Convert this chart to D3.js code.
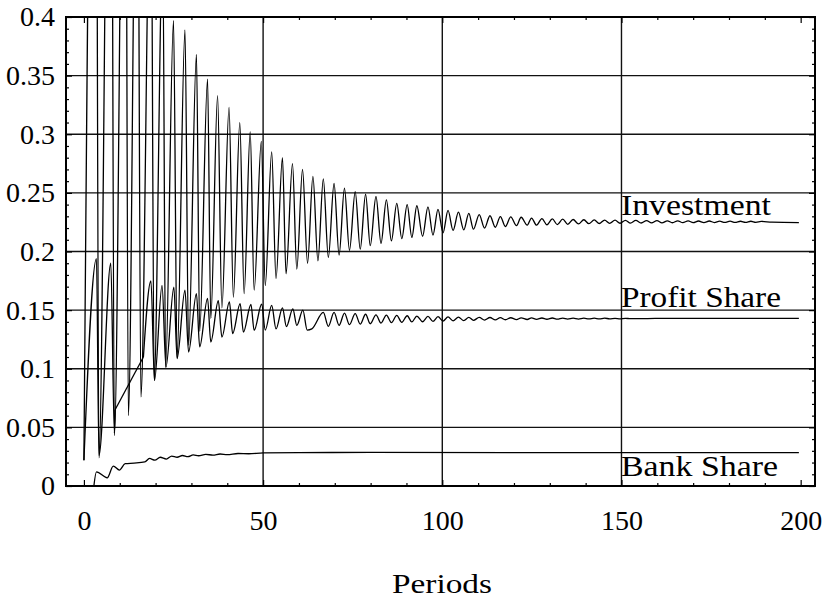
<!DOCTYPE html>
<html>
<head>
<meta charset="utf-8">
<script src="https://cdn.jsdelivr.net/npm/d3@7"></script>
<style>
body { margin: 0; background: #fff; }
svg { display: block; }
text { font-family: "Liberation Serif", "Times New Roman", serif; fill: #000; }
</style>
</head>
<body>
<svg id="chart" width="827" height="603"></svg>
<script>
// turning points (period, share)
let investmentPeriods = [0, 3.2, 4.2, 7.5, 8.5, 11.5, 12.4, 14.9, 15.9, 18.7, 19.6, 22.0, 22.8, 25.0, 26.0, 28.2, 29.2, 31.4, 32.3, 34.5, 35.4, 37.3, 38.5, 40.5, 41.7, 43.5, 44.7, 46.4, 47.5, 49.5, 50.6, 52.4, 53.6, 55.4, 56.4, 58.2, 59.4, 61.0, 62.4, 63.9, 65.3, 66.8, 68.2, 69.8, 71.2, 72.7, 74.1, 75.7, 77.1, 78.6, 79.9, 81.5, 82.9, 84.4, 85.8, 87.3, 88.7, 90.2, 91.5, 92.9, 94.5, 96.0, 97.4, 98.8, 100.2, 101.6, 103.0, 104.5, 106.0, 107.4, 108.7, 110.3, 111.8, 113.3, 114.8, 116.2, 117.6, 119.1, 120.7, 122.0, 123.7, 124.9, 126.3, 127.8, 129.2, 130.7, 132.1, 133.6, 135.0, 136.5, 138.0, 139.5, 140.9, 142.4, 143.8, 145.3, 146.7, 148.2, 149.6, 151.1, 152.5, 154.0, 155.5, 157.0, 158.4, 159.9, 161.3, 162.8, 164.2, 165.7, 167.1, 168.6, 170.0, 171.5, 173.0, 174.5, 175.9, 177.4, 178.8, 180.3, 181.7, 183.2, 184.6, 186.1, 187.5, 189.0, 192.0, 199.5];
let investmentValues = [0.022, 0.85, 0.024, 0.8, 0.043, 0.75, 0.06, 0.65, 0.076, 0.55, 0.09, 0.46, 0.101, 0.397, 0.109, 0.389, 0.12, 0.368, 0.132, 0.347, 0.143, 0.333, 0.152, 0.323, 0.161, 0.310, 0.164, 0.302, 0.167, 0.294, 0.171, 0.285, 0.177, 0.280, 0.181, 0.275, 0.185, 0.270, 0.190, 0.264, 0.192, 0.262, 0.195, 0.258, 0.197, 0.254, 0.201, 0.251, 0.202, 0.249, 0.205, 0.247, 0.207, 0.244, 0.209, 0.241, 0.211, 0.240, 0.212, 0.239, 0.213, 0.238, 0.214, 0.236, 0.216, 0.235, 0.218, 0.2335, 0.2185, 0.2325, 0.219, 0.2315, 0.220, 0.2305, 0.2207, 0.2298, 0.2213, 0.2295, 0.2221, 0.2292, 0.2225, 0.2285, 0.2225, 0.2280, 0.2228, 0.2278, 0.2230, 0.2276, 0.2232, 0.2273, 0.2235, 0.2271, 0.2237, 0.2269, 0.2239, 0.2268, 0.2240, 0.2267, 0.2241, 0.2266, 0.2242, 0.2265, 0.2243, 0.2264, 0.2244, 0.2263, 0.2244, 0.2262, 0.2245, 0.2262, 0.2246, 0.2261, 0.2246, 0.2260, 0.2247, 0.2260, 0.2247, 0.2259, 0.2248, 0.2259, 0.2248, 0.2258, 0.2249, 0.2258, 0.2249, 0.2257, 0.2250, 0.2247];

let profitPeriods = [0, 3.5, 4.2, 7.5, 8.5, 8.7, 16.6, 18.7, 19.7, 21.8, 22.9, 25.1, 26.0, 28.2, 29.2, 31.4, 32.3, 34.5, 35.4, 37.5, 38.5, 40.6, 41.5, 43.6, 44.5, 46.6, 47.5, 49.6, 50.6, 52.4, 53.6, 55.4, 56.5, 58.3, 59.4, 61.1, 62.3, 63.6, 66.8, 68.2, 69.8, 71.2, 72.7, 74.1, 75.7, 77.1, 78.6, 79.9, 81.5, 82.9, 84.4, 85.8, 87.3, 88.7, 90.2, 91.5, 92.9, 94.5, 96.0, 97.4, 98.8, 100.2, 101.6, 103.0, 104.5, 106.0, 107.4, 108.7, 110.3, 111.8, 113.3, 114.8, 116.2, 117.6, 119.1, 120.7, 122.0, 123.7, 124.9, 126.3, 127.8, 129.2, 130.7, 132.1, 133.6, 135.0, 136.5, 138.0, 139.5, 140.9, 142.4, 143.8, 145.3, 146.7, 148.2, 149.6, 151.1, 152.5, 160.0, 199.5];
let profitValues = [0.022, 0.194, 0.026, 0.190, 0.045, 0.065, 0.110, 0.175, 0.090, 0.171, 0.1015, 0.1696, 0.1087, 0.167, 0.1143, 0.164, 0.1186, 0.160, 0.1228, 0.158, 0.127, 0.157, 0.130, 0.1555, 0.1313, 0.1548, 0.1328, 0.155, 0.133, 0.154, 0.134, 0.152, 0.136, 0.151, 0.137, 0.150, 0.133, 0.134, 0.148, 0.1362, 0.148, 0.137, 0.1475, 0.1376, 0.147, 0.138, 0.1465, 0.1384, 0.146, 0.139, 0.1458, 0.1393, 0.1455, 0.1396, 0.1452, 0.1399, 0.1449, 0.1401, 0.1446, 0.1404, 0.1444, 0.1407, 0.1442, 0.1409, 0.1440, 0.1411, 0.1439, 0.1413, 0.1438, 0.1415, 0.1437, 0.1416, 0.1436, 0.1418, 0.1435, 0.1419, 0.1434, 0.1420, 0.1434, 0.1421, 0.1433, 0.1422, 0.1433, 0.1423, 0.1432, 0.1424, 0.1432, 0.1424, 0.1431, 0.1425, 0.1431, 0.1425, 0.1431, 0.1426, 0.1430, 0.1426, 0.1430, 0.1427, 0.1429, 0.1430];
// the profit share jumps along a straight stretch between these two periods
let profitStraight = [8.7, 16.6];

let bankPeriods = [2.7, 3.5, 6.5, 8.2, 9.9, 11.5, 14, 17, 18.3, 19.8, 21.3, 23, 24.5, 26, 27.5, 29, 30.5, 32, 34, 36, 38, 40, 43, 46, 50, 60, 80, 120, 199.5];
let bankValues = [-0.002, 0.012, 0.007, 0.017, 0.0136, 0.019, 0.0195, 0.0205, 0.0235, 0.022, 0.0245, 0.023, 0.0255, 0.0245, 0.026, 0.025, 0.0265, 0.0258, 0.027, 0.0263, 0.0273, 0.0268, 0.0277, 0.0275, 0.0283, 0.0285, 0.0286, 0.0285, 0.0284];

let seriesNames = ["Investment", "Profit Share", "Bank Share"];
let xTicks = [0, 50, 100, 150, 200];
let xMinorTicks = [10, 20, 30, 40, 60, 70, 80, 90, 110, 120, 130, 140, 160, 170, 180, 190];
let yTicks = [0, 0.05, 0.1, 0.15, 0.2, 0.25, 0.3, 0.35, 0.4];
let yTickLabels = ["0", "0.05", "0.1", "0.15", "0.2", "0.25", "0.3", "0.35", "0.4"];
let yMinorTicks = [0.01, 0.02, 0.03, 0.04, 0.06, 0.07, 0.08, 0.09, 0.11, 0.12, 0.13, 0.14, 0.16, 0.17, 0.18, 0.19, 0.21, 0.22, 0.23, 0.24, 0.26, 0.27, 0.28, 0.29, 0.31, 0.32, 0.33, 0.34, 0.36, 0.37, 0.38, 0.39];
let xGrid = [50, 100, 150];
let yGrid = [0.05, 0.1, 0.15, 0.2, 0.25, 0.3, 0.35];

let plotLeft = 66, plotRight = 815, plotTop = 17, plotBottom = 486;
let fontSize = 28;

let svg = d3.select("#chart");

let x = d3.scaleLinear().domain([-5, 204]).range([plotLeft, plotRight]);
let y = d3.scaleLinear().domain([0, 0.4]).range([plotBottom, plotTop]);

svg.append("defs").append("clipPath")
    .attr("id", "plot-clip")
    .append("rect")
    .attr("x", plotLeft)
    .attr("y", plotTop)
    .attr("width", plotRight - plotLeft)
    .attr("height", plotBottom - plotTop);

// grid
svg.append("g").selectAll("line")
    .data(yGrid)
    .enter().append("line")
    .attr("x1", plotLeft).attr("x2", plotRight)
    .attr("y1", d => y(d)).attr("y2", d => y(d))
    .style("stroke", "#111")
    .style("stroke-width", 1.4);

svg.append("g").selectAll("line")
    .data(xGrid)
    .enter().append("line")
    .attr("x1", d => x(d)).attr("x2", d => x(d))
    .attr("y1", plotTop).attr("y2", plotBottom)
    .style("stroke", "#111")
    .style("stroke-width", 1.4);

// ticks on all four sides, pointing inwards
function tickAxis(axis, pos, cls) {
    let g = svg.append("g")
        .attr("class", cls)
        .attr("transform", pos)
        .call(axis);
    g.select(".domain").remove();
    g.selectAll("line").style("stroke", "#000").style("stroke-width", 1.2);
    return g;
}

let yAxis = tickAxis(d3.axisLeft(y).tickValues(yTicks).tickSize(-6).tickPadding(11)
    .tickFormat((d, i) => yTickLabels[i]), "translate(" + plotLeft + ",0)", "y-axis");
yAxis.selectAll("text").style("font-size", fontSize + "px").style("font-family", "Liberation Serif");
tickAxis(d3.axisLeft(y).tickValues(yMinorTicks).tickSize(-3).tickFormat(""), "translate(" + plotLeft + ",0)", "y-minor");
tickAxis(d3.axisRight(y).tickValues(yTicks).tickSize(-6).tickFormat(""), "translate(" + plotRight + ",0)", "y-right");
tickAxis(d3.axisRight(y).tickValues(yMinorTicks).tickSize(-3).tickFormat(""), "translate(" + plotRight + ",0)", "y-right-minor");

let xAxis = tickAxis(d3.axisBottom(x).tickValues(xTicks).tickSize(-6).tickPadding(24)
    .tickFormat(d3.format("d")), "translate(0," + plotBottom + ")", "x-axis");
xAxis.selectAll("text").style("font-size", fontSize + "px").style("font-family", "Liberation Serif");
tickAxis(d3.axisBottom(x).tickValues(xMinorTicks).tickSize(-3).tickFormat(""), "translate(0," + plotBottom + ")", "x-minor");
tickAxis(d3.axisTop(x).tickValues(xTicks).tickSize(-6).tickFormat(""), "translate(0," + plotTop + ")", "x-top");
tickAxis(d3.axisTop(x).tickValues(xMinorTicks).tickSize(-3).tickFormat(""), "translate(0," + plotTop + ")", "x-top-minor");

// series
let smooth = d3.line()
    .x(d => x(d[0]))
    .y(d => y(d[1]))
    .curve(d3.curveMonotoneX);

let straight = d3.line()
    .x(d => x(d[0]))
    .y(d => y(d[1]));

let profit = d3.zip(profitPeriods, profitValues);
let cutA = profitPeriods.indexOf(profitStraight[0]);
let cutB = profitPeriods.indexOf(profitStraight[1]);

let pieces = [
    smooth(d3.zip(investmentPeriods, investmentValues)),
    smooth(profit.slice(0, cutA + 1)),
    straight(profit.slice(cutA, cutB + 1)),
    smooth(profit.slice(cutB)),
    smooth(d3.zip(bankPeriods, bankValues))
];

svg.append("g")
    .attr("clip-path", "url(#plot-clip)")
    .selectAll("path")
    .data(pieces)
    .enter().append("path")
    .attr("d", d => d)
    .style("fill", "none")
    .style("stroke", "#000")
    .style("stroke-width", 1.3)
    .style("stroke-linejoin", "round");

// frame
svg.append("rect")
    .attr("x", plotLeft)
    .attr("y", plotTop)
    .attr("width", plotRight - plotLeft)
    .attr("height", plotBottom - plotTop)
    .style("fill", "none")
    .style("stroke", "#000")
    .style("stroke-width", 2);

// series labels
let labelY = [215, 307, 476];
let labelLength = [150, 160, 157];
svg.append("g").selectAll("text")
    .data(seriesNames)
    .enter().append("text")
    .attr("x", 621)
    .attr("y", (d, i) => labelY[i])
    .attr("textLength", (d, i) => labelLength[i])
    .attr("lengthAdjust", "spacingAndGlyphs")
    .style("font-size", "29px")
    .text(d => d);

svg.append("text")
    .attr("x", 442)
    .attr("y", 593)
    .attr("text-anchor", "middle")
    .attr("textLength", 100)
    .attr("lengthAdjust", "spacingAndGlyphs")
    .style("font-size", "28px")
    .text("Periods");
</script>
</body>
</html>
